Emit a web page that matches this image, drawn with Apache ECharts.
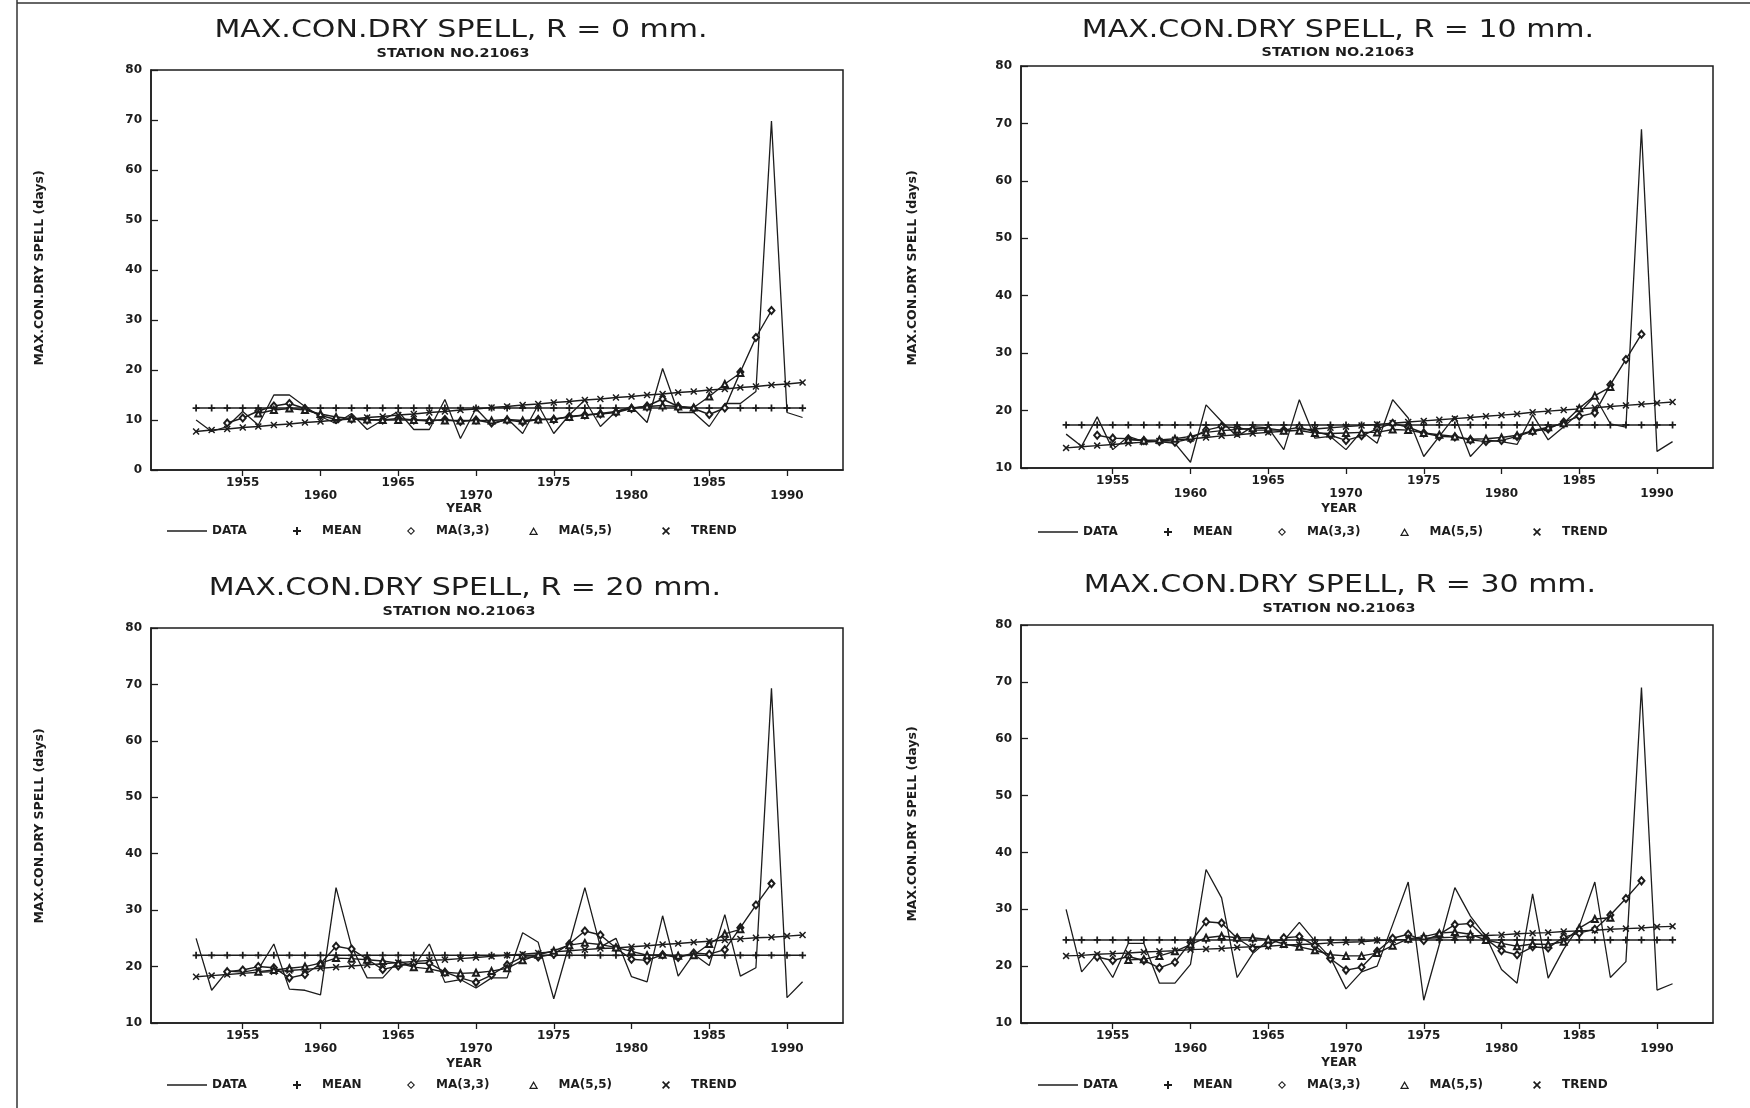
<!DOCTYPE html>
<html>
<head>
<meta charset="utf-8">
<script src="https://cdn.jsdelivr.net/npm/echarts@6/dist/echarts.min.js"></script>
<style>
html,body{margin:0;padding:0;background:#ffffff;}
#chart{width:1750px;height:1108px;}
</style>
</head>
<body>
<div id="chart"></div>
<script>
// ---------------- DATA ----------------
const years = [1952,1953,1954,1955,1956,1957,1958,1959,1960,1961,1962,1963,1964,1965,1966,1967,1968,1969,1970,1971,
               1972,1973,1974,1975,1976,1977,1978,1979,1980,1981,1982,1983,1984,1985,1986,1987,1988,1989,1990,1991];
const xTickYears = [1955,1960,1965,1970,1975,1980,1985,1990];
const seriesNames = ['DATA','MEAN','MA(3,3)','MA(5,5)','TREND'];
const panelTitles = ['MAX.CON.DRY SPELL, R = 0 mm.','MAX.CON.DRY SPELL, R = 10 mm.','MAX.CON.DRY SPELL, R = 20 mm.','MAX.CON.DRY SPELL, R = 30 mm.'];
const stationLabel = 'STATION NO.21063';
const yAxisLabel = 'MAX.CON.DRY SPELL (days)';
const xAxisLabel = 'YEAR';
const yAxisMin = [0, 10, 10, 10];
const yAxisMax = [80, 80, 80, 80];

// R = 0 mm
const data_R0 = [10.0,7.7,8.7,11.7,9.0,15.0,15.0,12.7,10.7,9.3,11.3,8.1,10.0,11.7,8.1,8.1,14.1,6.3,12.3,9.0,
                 10.3,7.3,13.0,7.3,11.0,14.0,8.7,11.7,12.7,9.5,20.3,11.5,11.5,8.7,13.3,13.3,15.7,69.8,11.5,10.5];
const mean_R0 = 12.4;
const ma33_R0 = [9.4,10.4,11.8,12.8,13.3,12.3,10.9,10.1,10.2,10.0,10.0,10.3,10.0,9.8,10.1,9.7,10.0,9.4,10.0,9.6,
                 10.1,10.1,10.7,11.0,11.2,11.5,12.3,12.8,14.2,12.7,12.3,11.1,12.4,19.6,26.5,31.9];
const ma55_R0 = [11.3,12.0,12.3,12.0,11.2,10.6,10.3,10.1,10.0,10.0,10.0,10.0,9.9,9.9,9.9,9.9,10.1,9.9,10.1,10.2,
                 10.6,11.0,11.3,11.7,12.4,12.7,12.9,12.7,12.5,14.7,17.2,19.4];
const trend_R0 = [7.7,8.0,8.2,8.5,8.7,9.0,9.2,9.5,9.7,10.0,10.2,10.5,10.7,11.0,11.2,11.5,11.7,12.0,12.2,12.5,
                  12.7,13.0,13.2,13.5,13.7,14.0,14.2,14.5,14.7,15.0,15.2,15.5,15.7,16.0,16.2,16.5,16.7,17.0,17.2,17.5];

// R = 10 mm
const data_R10 = [15.9,13.8,18.9,13.2,15.5,14.6,14.6,14.3,11.0,21.0,18.1,15.5,17.2,17.0,13.2,21.9,15.2,15.5,13.2,16.4,
                  14.3,21.9,18.7,12.0,15.5,19.0,12.0,14.9,14.6,14.1,19.3,14.9,17.2,19.6,22.5,17.7,17.1,69.0,12.9,14.6];
const mean_R10 = 17.5;
const ma33_R10 = [15.7,15.2,15.1,14.8,14.6,14.5,15.1,16.6,17.2,17.0,16.6,16.6,16.6,17.1,16.3,15.7,14.8,15.6,16.8,17.8,
                  17.1,16.1,15.5,15.4,14.9,14.6,14.8,15.5,16.4,16.8,18.0,19.0,19.6,24.5,28.9,33.3];
const ma55_R10 = [14.9,14.8,14.9,15.1,15.5,16.2,16.5,16.7,16.9,16.9,16.5,16.5,16.1,16.0,16.1,16.2,16.2,16.7,16.6,16.1,
                  15.8,15.5,15.0,15.1,15.3,15.7,16.5,17.1,17.8,20.4,22.6,24.1];
const trend_R10 = [13.5,13.7,13.9,14.1,14.3,14.5,14.7,14.9,15.1,15.3,15.6,15.8,16.0,16.2,16.4,16.6,16.8,17.0,17.2,17.4,
                   17.6,17.8,18.0,18.2,18.4,18.6,18.8,19.0,19.2,19.4,19.7,19.9,20.1,20.3,20.5,20.7,20.9,21.1,21.3,21.5];

// R = 20 mm
const data_R20 = [25.0,15.8,19.2,19.0,19.5,24.0,16.0,15.8,15.0,34.0,23.5,18.0,18.0,21.0,20.0,24.0,17.2,17.7,16.2,18.0,
                  18.0,26.0,24.3,14.3,24.0,34.0,23.5,25.0,18.2,17.3,29.0,18.3,22.2,20.2,29.2,18.3,19.8,69.3,14.5,17.3];
const mean_R20 = 22.0;
const ma33_R20 = [19.1,19.4,20.0,19.8,18.0,18.6,20.5,23.6,23.1,21.3,19.5,20.1,20.6,20.6,19.0,18.0,17.2,18.5,20.3,21.7,
                  21.7,22.2,24.0,26.3,25.6,23.3,21.3,21.1,22.1,21.6,22.4,22.2,23.0,26.9,30.9,34.7];
const ma55_R20 = [19.1,19.4,19.7,20.0,20.6,21.5,21.4,21.2,21.0,20.6,19.9,19.6,19.0,18.8,18.9,19.2,19.7,21.1,22.1,22.8,
                  23.8,24.2,23.9,23.4,22.7,22.0,22.1,21.9,22.0,24.0,25.8,26.6];
const trend_R20 = [18.2,18.4,18.6,18.8,19.0,19.1,19.3,19.5,19.7,19.9,20.1,20.3,20.5,20.7,20.9,21.1,21.2,21.4,21.6,21.8,
                   22.0,22.2,22.4,22.6,22.8,23.0,23.2,23.3,23.5,23.7,23.9,24.1,24.3,24.5,24.7,24.9,25.1,25.2,25.4,25.6];

// R = 30 mm
const data_R30 = [30.0,19.0,22.2,18.0,24.0,24.0,17.0,17.0,20.3,37.0,32.0,18.0,22.2,24.6,24.5,27.7,24.4,21.5,16.0,19.0,
                  20.0,27.3,34.8,14.0,23.8,33.8,28.8,25.2,19.4,17.0,32.7,17.9,23.0,27.0,34.8,18.0,20.8,69.0,15.8,16.9];
const mean_R30 = 24.6;
const ma33_R30 = [21.6,21.0,21.7,21.0,19.7,20.7,24.2,27.8,27.6,24.9,23.1,23.7,25.0,25.2,23.6,21.3,19.3,19.8,22.6,24.9,
                  25.6,24.5,25.6,27.3,27.5,24.8,22.7,22.0,23.4,23.2,25.1,25.8,26.5,29.0,31.9,35.0];
const ma55_R30 = [21.1,21.2,21.8,22.6,23.8,25.0,25.3,25.0,25.0,24.7,23.9,23.4,22.8,22.0,21.8,21.8,22.3,23.6,24.8,25.2,
                  25.8,26.0,25.6,24.6,24.0,23.5,23.9,23.8,24.3,26.7,28.3,28.5];
const trend_R30 = [21.8,21.9,22.1,22.2,22.3,22.5,22.6,22.7,22.9,23.0,23.1,23.3,23.4,23.5,23.7,23.8,23.9,24.1,24.2,24.3,
                   24.5,24.6,24.7,24.9,25.0,25.1,25.3,25.4,25.5,25.7,25.8,25.9,26.1,26.2,26.3,26.5,26.6,26.7,26.9,27.0];

const panelData = [
  {data: data_R0,  mean: mean_R0,  ma33: ma33_R0,  ma55: ma55_R0,  trend: trend_R0},
  {data: data_R10, mean: mean_R10, ma33: ma33_R10, ma55: ma55_R10, trend: trend_R10},
  {data: data_R20, mean: mean_R20, ma33: ma33_R20, ma55: ma55_R20, trend: trend_R20},
  {data: data_R30, mean: mean_R30, ma33: ma33_R30, ma55: ma55_R30, trend: trend_R30}
];

// ---------------- LAYOUT / STYLE ----------------
const layout = [
  {grid:{left:151, top:70,  width:692, height:400}, title:[461,30],  sub:[453,54],  yname:[40,268],  year:[464,509],  legend:[167,529]},
  {grid:{left:1021,top:66,  width:692, height:402}, title:[1338,30], sub:[1338,53], yname:[913,268], year:[1339,509], legend:[1038,530]},
  {grid:{left:151, top:628, width:692, height:395}, title:[465,588], sub:[459,612], yname:[40,826],  year:[464,1064], legend:[167,1083]},
  {grid:{left:1021,top:625, width:692, height:398}, title:[1340,585],sub:[1339,609],yname:[913,824], year:[1339,1063],legend:[1038,1083]}
];
const legendOffsets = [0, 126, 240, 362, 495];
const ink = '#1c1c1c';
const FONT = '"DejaVu Sans", "Liberation Sans", sans-serif';
const plusPath = 'path://M3,0H5V3H8V5H5V8H3V5H0V3H3Z';
const crossPath = 'path://M0,1.2L1.2,0L4,2.8L6.8,0L8,1.2L5.2,4L8,6.8L6.8,8L4,5.2L1.2,8L0,6.8L2.8,4Z';
const diamondOutline = 'path://M4,0L8,4L4,8L0,4Z M4,1.5L1.5,4L4,6.5L6.5,4Z';
const triangleOutline = 'path://M4,0L8,7L0,7Z M4,2.2L1.8,6L6.2,6Z';
const lineIcon = 'path://M0,0H40V1.3H0Z';
const legendIcons = [lineIcon, plusPath, diamondOutline, triangleOutline, crossPath];
const XMIN = 1949.1, XMAX = 1993.6;

const pairs = (xs, ys) => ys.map((v, k) => [xs[k], v]);

const grids = [], xAxes = [], yAxes = [], series = [], legends = [], graphics = [];

layout.forEach((L, i) => {
  const P = panelData[i];
  grids.push(Object.assign({show:true, borderColor:ink, borderWidth:1.5, backgroundColor:'transparent'}, L.grid));
  xAxes.push({
    type:'value', gridIndex:i, min:XMIN, max:XMAX,
    axisLine:{show:true, lineStyle:{color:ink, width:1.5}},
    splitLine:{show:false},
    axisTick:{show:true, inside:false, length:6, customValues:xTickYears, lineStyle:{color:ink, width:1.3}},
    axisLabel:{customValues:xTickYears, color:ink, fontFamily:FONT, fontWeight:'bold', fontSize:12, lineHeight:12.5, margin:7,
               formatter: v => (v % 10 === 0 ? '\n' + v : String(v))}
  });
  yAxes.push({
    type:'value', gridIndex:i, min:yAxisMin[i], max:yAxisMax[i], interval:10,
    axisLine:{show:true, lineStyle:{color:ink, width:1.5}},
    splitLine:{show:false},
    axisTick:{show:true, inside:true, length:7, lineStyle:{color:ink, width:1.3}},
    axisLabel:{color:ink, fontFamily:FONT, fontWeight:'bold', fontSize:12, margin:9}
  });
  const common = {type:'line', xAxisIndex:i, yAxisIndex:i, animation:false, silent:true, itemStyle:{color:ink}};
  series.push(Object.assign({}, common, {name:'DATA', data:pairs(years, P.data), symbol:'none', showSymbol:false,
                 lineStyle:{color:ink, width:1.3}, z:2}));
  series.push(Object.assign({}, common, {name:'MEAN', data:years.map(y => [y, P.mean]), symbol:plusPath, symbolSize:7,
                 lineStyle:{color:ink, width:1.5}, z:3}));
  series.push(Object.assign({}, common, {name:'MA(3,3)', data:pairs(years.slice(2, 38), P.ma33), symbol:'emptyDiamond', symbolSize:[6,7],
                 lineStyle:{color:ink, width:1.4}, itemStyle:{color:ink, borderWidth:1.1}, z:4}));
  series.push(Object.assign({}, common, {name:'MA(5,5)', data:pairs(years.slice(4, 36), P.ma55), symbol:'emptyTriangle', symbolSize:6,
                 lineStyle:{color:ink, width:1.4}, itemStyle:{color:ink, borderWidth:1.1}, z:4}));
  series.push(Object.assign({}, common, {name:'TREND', data:pairs(years, P.trend), symbol:crossPath, symbolSize:7,
                 lineStyle:{color:ink, width:1.4}, z:3}));
  seriesNames.forEach((nm, k) => {
    legends.push({
      left:L.legend[0] + legendOffsets[k], top:L.legend[1] - 4, orient:'horizontal', padding:0,
      itemWidth:40, itemHeight:8, itemGap:0, selectedMode:false,
      textStyle:{color:ink, fontFamily:FONT, fontWeight:'bold', fontSize:12},
      data:[{name:nm, icon:legendIcons[k], itemStyle:{color:ink, borderWidth:0}}]
    });
  });
  graphics.push({type:'text', x:L.title[0], y:L.title[1], scaleX:1.2, silent:true,
    style:{text:panelTitles[i], font:'25px ' + FONT, fill:ink, align:'center', verticalAlign:'middle', textAlign:'center', textVerticalAlign:'middle'}});
  graphics.push({type:'text', x:L.sub[0], y:L.sub[1], scaleX:1.25, silent:true,
    style:{text:stationLabel, font:'bold 11.5px ' + FONT, fill:ink, align:'center', verticalAlign:'middle', textAlign:'center', textVerticalAlign:'middle'}});
  graphics.push({type:'text', x:L.yname[0], y:L.yname[1], rotation:Math.PI/2, silent:true,
    style:{text:yAxisLabel, font:'bold 12.5px ' + FONT, fill:ink, align:'center', verticalAlign:'middle', textAlign:'center', textVerticalAlign:'middle'}});
  graphics.push({type:'text', x:L.year[0], y:L.year[1], silent:true,
    style:{text:xAxisLabel, font:'bold 12px ' + FONT, fill:ink, align:'center', verticalAlign:'middle', textAlign:'center', textVerticalAlign:'middle'}});
});

// page frame lines of the scanned sheet
graphics.push({type:'line', silent:true, shape:{x1:17, y1:3, x2:1750, y2:3}, style:{stroke:'#333333', lineWidth:1.5}});
graphics.push({type:'line', silent:true, shape:{x1:17, y1:0, x2:17, y2:1108}, style:{stroke:'#333333', lineWidth:1.5}});

const chart = echarts.init(document.getElementById('chart'), null, {renderer:'canvas', width:1750, height:1108});
chart.setOption({
  backgroundColor:'#ffffff',
  animation:false,
  grid:grids, xAxis:xAxes, yAxis:yAxes, series:series, legend:legends,
  graphic:{elements:graphics}
});
</script>
</body>
</html>
